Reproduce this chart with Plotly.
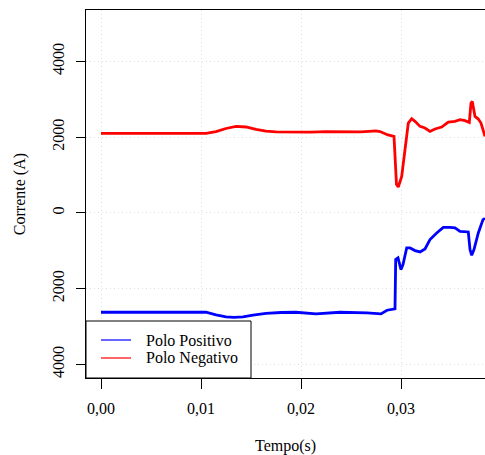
import plotly.graph_objects as go

# Time (s) and current (A) for each pole
t_neg = [0, 0.0105, 0.0115, 0.0125, 0.0135, 0.0145, 0.0155, 0.0165, 0.0175, 0.019, 0.021,
         0.0225, 0.024, 0.026, 0.0275, 0.0279, 0.0287, 0.0293, 0.02955, 0.02973, 0.03007,
         0.0304, 0.03073, 0.03107, 0.0314, 0.0319, 0.0324, 0.0329, 0.0334, 0.03407, 0.03473,
         0.0354, 0.0359, 0.0364, 0.03683, 0.0370, 0.03713, 0.0374, 0.03773, 0.0380, 0.0384]
i_neg = [2100, 2100, 2150, 2230, 2285, 2270, 2210, 2160, 2140, 2130, 2135,
         2150, 2140, 2140, 2165, 2150, 2060, 2020, 750, 686, 966,
         1757, 2375, 2488, 2418, 2286, 2243, 2153, 2216, 2269, 2401,
         2418, 2462, 2436, 2391, 2902, 2945, 2549, 2480, 2375, 2021]

t_pos = [0, 0.0105, 0.0115, 0.0125, 0.0133, 0.0142, 0.0152, 0.0165, 0.018, 0.0195, 0.0215,
         0.0239, 0.0266, 0.028, 0.0286, 0.0294, 0.02947, 0.0297, 0.0300, 0.0302, 0.03057,
         0.0309, 0.0314, 0.0319, 0.0324, 0.0329, 0.03357, 0.03423, 0.0349, 0.0354, 0.0359,
         0.03673, 0.0369, 0.03707, 0.0373, 0.03773, 0.0382, 0.0384]
i_pos = [-2623, -2623, -2690, -2745, -2760, -2745, -2700, -2655, -2630, -2623, -2665,
         -2623, -2640, -2665, -2570, -2533, -1232, -1188, -1496, -1364, -924,
         -924, -995, -1029, -950, -704, -528, -380, -380, -396, -485,
         -502, -968, -1118, -968, -528, -177, -142]

x_tickvals = [0, 0.01, 0.02, 0.03]
x_ticktext = ["0,00", "0,01", "0,02", "0,03"]
y_tickvals = [-4000, -2000, 0, 2000, 4000]
y_ticktext = ["4000", "2000", "0", "2000", "4000"]

series_names = ["Polo Positivo", "Polo Negativo"]
series_colors = ["blue", "red"]

FONT = "Liberation Serif"

fig = go.Figure()
fig.add_trace(go.Scatter(x=t_pos, y=i_pos, mode="lines", name=series_names[0],
                         line=dict(color=series_colors[0], width=2.8), showlegend=False))
fig.add_trace(go.Scatter(x=t_neg, y=i_neg, mode="lines", name=series_names[1],
                         line=dict(color=series_colors[1], width=2.8), showlegend=False))

fig.update_layout(
    width=485, height=455,
    margin=dict(l=86, r=0, t=10, b=77),
    paper_bgcolor="white", plot_bgcolor="white",
    font=dict(family=FONT, size=16, color="black"),
    xaxis=dict(range=[-0.0015, 0.0384], tickvals=x_tickvals, ticktext=x_ticktext,
               showgrid=True, gridcolor="#dedede", griddash="1px,3px", gridwidth=1,
               showline=True, linecolor="black", linewidth=1, mirror=True,
               ticks="outside", ticklen=10, tickcolor="black", ticklabelstandoff=6,
               zeroline=False),
    yaxis=dict(range=[-4360, 5360], tickvals=y_tickvals, ticktext=y_ticktext,
               showgrid=True, gridcolor="#dedede", griddash="1px,3px", gridwidth=1,
               showline=True, linecolor="black", linewidth=1, mirror=False,
               ticks="outside", ticklen=9, tickcolor="black", tickangle=-90,
               ticklabelstandoff=6, zeroline=False),
)

# axis titles
fig.add_annotation(text="Tempo(s)", xref="paper", yref="paper", x=0.5, y=-0.185,
                   showarrow=False, xanchor="center", yanchor="middle",
                   font=dict(family=FONT, size=16))
fig.add_annotation(text="Corrente (A)", xref="paper", yref="paper", x=-0.165, y=0.5,
                   showarrow=False, textangle=-90, xanchor="center", yanchor="middle",
                   font=dict(family=FONT, size=16))

# legend box (bottom-left)
px_w, px_h = 399.0, 368.0
def px_x(p):
    return (p - 86) / px_w
def px_y(p):
    return (378 - p) / px_h

fig.add_shape(type="rect", xref="paper", yref="paper", x0=0, x1=px_x(251), y0=0, y1=px_y(321),
              line=dict(color="black", width=1), fillcolor="white", layer="above")
rows_y = [340, 358]
for name, col, ry in zip(series_names, series_colors, rows_y):
    fig.add_shape(type="line", xref="paper", yref="paper", x0=px_x(101), x1=px_x(131),
                  y0=px_y(ry), y1=px_y(ry), line=dict(color=col, width=1.2), layer="above")
    fig.add_annotation(text=name, xref="paper", yref="paper", x=px_x(144), y=px_y(ry),
                       showarrow=False, xanchor="left", yanchor="middle",
                       font=dict(family=FONT, size=16))

fig.write_html("out.html")
